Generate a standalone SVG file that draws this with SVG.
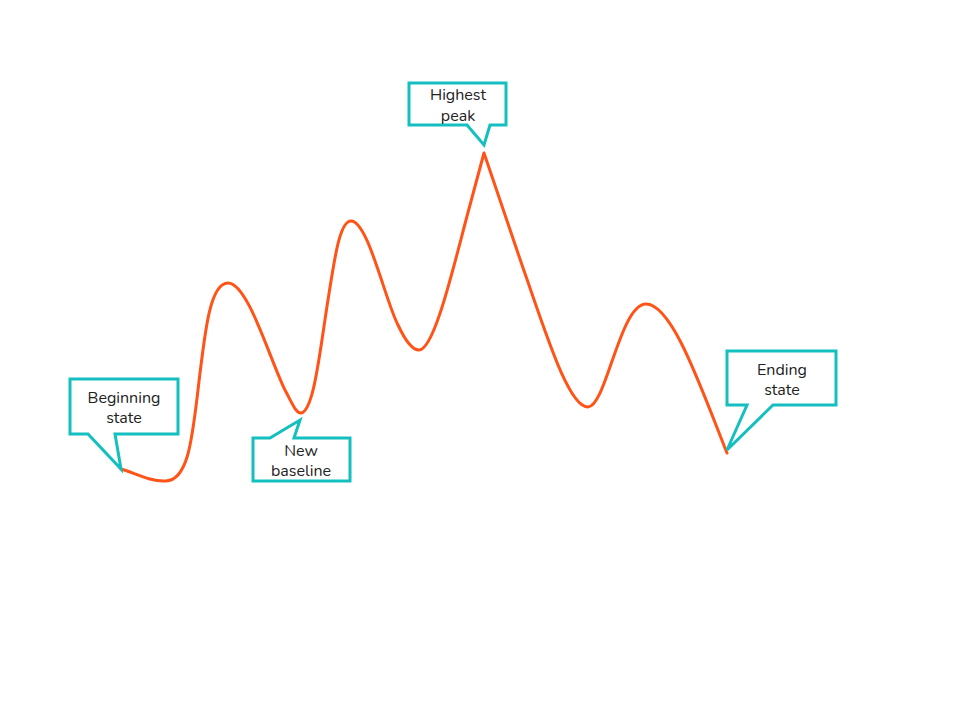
<svg xmlns="http://www.w3.org/2000/svg" width="960" height="720" viewBox="0 0 960 720">
<style>
.co{fill:#fff;stroke:#14bfbf;stroke-width:3;stroke-linejoin:miter}
.t{font-family:"Nunito","Noto Sans","Open Sans",sans-serif;font-size:16px;fill:#222;text-anchor:middle}
.line{fill:none;stroke:#ff5317;stroke-width:3;stroke-linecap:round;stroke-linejoin:round}
</style>
<rect width="960" height="720" fill="#fff"/>
<g id="connectors">
<path class="line" d="M121,469 C135,473 150,482 166,481 C188,480 192,440 198,390 C205,330 210,283 228,283 C248,283 270,360 285,390 C293,405 296,413 301,413 C314,411 320,350 328,300 C335,255 340,221 351,221 C368,221 385,300 398,325 C405,340 412,350 419,350 C435,350 455,260 470,205 L484,153 L522,265 C545,330 568,407 588,407 C606,407 620,304 646,304 C672,304 700,385 727,453"/>
</g>
<g id="beginning">
<path class="co" d="M70,379 H178 V434 H115 L121,469 L88,434 H70 Z"/>
<text class="t" x="124" y="403">Beginning</text>
<text class="t" x="124" y="423">state</text>
</g>
<g id="baseline">
<path class="co" d="M253,438 H270 L300,420 L294,438 H350 V481 H253 Z"/>
<text class="t" x="301" y="456">New</text>
<text class="t" x="301" y="476">baseline</text>
</g>
<g id="peak">
<path class="co" d="M409,83 H506 V125 H490 L484,145 L467,125 H409 Z"/>
<text class="t" x="458" y="100">Highest</text>
<text class="t" x="458" y="121">peak</text>
</g>
<g id="ending">
<path class="co" d="M727,351 H836 V405 H773 L727,450 L747,405 H727 Z"/>
<text class="t" x="782" y="375">Ending</text>
<text class="t" x="782" y="395">state</text>
</g>
</svg>
